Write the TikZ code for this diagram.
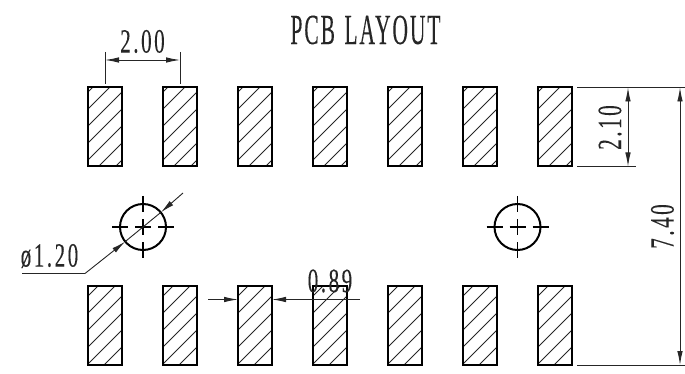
\documentclass[tikz,border=0pt]{standalone}
\usepackage{fontspec}
\usetikzlibrary{arrows.meta}
\newfontfamily\cadfont{Liberation Serif}[LetterSpace=12,FakeBold=0.2]
\newfontfamily\cadtfont{Liberation Serif}[LetterSpace=9,FakeBold=0.2]
\newcommand{\cadtitle}[1]{\scalebox{.5}[1]{\fontsize{43}{43}\cadtfont #1}}
\newcommand{\caddim}[1]{\scalebox{.62}[1]{\fontsize{34}{34}\cadfont #1}}
\tikzset{
  x=1pt,y=-1pt,
  padbox/.style={draw=black,line width=2pt,fill=none},
  hatchline/.style={draw=black!85,line width=.9pt},
  thinline/.style={draw=black!85,line width=.9pt},
  dimline/.style={thinline,{Latex[length=14pt,width=5.5pt]}-{Latex[length=14pt,width=5.5pt]}},
  singlehead/.style={thinline,-{Latex[length=14pt,width=5.5pt]}},
  label/.style={inner sep=0pt,text=black!85},
  holecircle/.style={draw=black,line width=2pt,fill=none},
  centremark/.style={draw=black,line width=1.6pt},
}
\begin{document}
\begin{tikzpicture}
\useasboundingbox (0,0) rectangle (685,374);
% pads
\foreach \px in {88,163,238,313,388,463,538}{
  \begin{scope}
    \clip (\px,87) rectangle ++(34,79);
    \foreach \d in {5,22,...,107}
      \path[hatchline] (\px,87+\d) -- (\px+\d,87);
  \end{scope}
  \path[padbox] (\px,87) rectangle ++(34,79);
  \begin{scope}
    \clip (\px,286) rectangle ++(34,79);
    \foreach \d in {10,27,...,100}
      \path[hatchline] (\px,286+\d) -- (\px+\d,286);
  \end{scope}
  \path[padbox] (\px,286) rectangle ++(34,79);
}
% holes
\foreach \cx/\nm in {143/holeL,517.5/holeR}{
  \node[circle,holecircle,minimum size=46pt,inner sep=0pt] (\nm) at (\cx,227) {};
  \foreach \a/\b in {-31/-15,-8/8,15/31}{
    \path[centremark] (\cx+\a,227) -- (\cx+\b,227);
    \path[centremark] (\cx,227+\a) -- (\cx,227+\b);
  }
}
% title
\node[label] (title) at (365.5,30) {\cadtitle{PCB\hspace{.1em} LAYOUT}};
% 2.00
\coordinate (a1) at (105,52); \coordinate (a2) at (105,84);
\coordinate (b1) at (180,52); \coordinate (b2) at (180,84);
\path[thinline] (a1) -- (a2);
\path[thinline] (b1) -- (b2);
\coordinate (a3) at (105,60); \coordinate (b3) at (180,60);
\path[dimline] (a3) -- (b3);
\node[label] (t200) at (142.5,41.5) {\caddim{2.00}};
% 2.10 and 7.40
\coordinate (c1) at (577,87.5); \coordinate (c2) at (685,87.5);
\coordinate (d1) at (577,166.5); \coordinate (d2) at (636,166.5);
\coordinate (e1) at (577,365); \coordinate (e2) at (685,365);
\path[thinline] (c1) -- (c2);
\path[thinline] (d1) -- (d2);
\path[thinline] (e1) -- (e2);
\coordinate (f1) at (628,87.5); \coordinate (f2) at (628,166.5);
\path[dimline] (f1) -- (f2);
\coordinate (g1) at (680,87.5); \coordinate (g2) at (680,365);
\path[dimline] (g1) -- (g2);
\node[label,rotate=90] (t210) at (610,127.5) {\caddim{2.10}};
\node[label,rotate=90] (t740) at (662.5,226.5) {\caddim{7.40}};
% 0.89
\coordinate (h1) at (208,299.5); \coordinate (h2) at (238,299.5);
\coordinate (i1) at (360,299.5); \coordinate (i2) at (272,299.5);
\path[singlehead] (h1) -- (h2);
\path[singlehead] (i1) -- (i2);
\node[label] (t089) at (330,281) {\caddim{0.89}};
% diameter
\coordinate (j0) at (22,273.5); \coordinate (j1) at (85,273.5);
\coordinate (j2) at (125.2,241.6);
\coordinate (j3) at (183,193); \coordinate (j4) at (160.8,212.4);
\path[thinline] (j0) -- (j1);
\path[singlehead] (j1) -- (j2);
\path[singlehead] (j3) -- (j4);
\path[thinline] (j2) -- (j4);
\node[label] (t120) at (49.5,256) {\caddim{ø1.20}};
\end{tikzpicture}
\end{document}
